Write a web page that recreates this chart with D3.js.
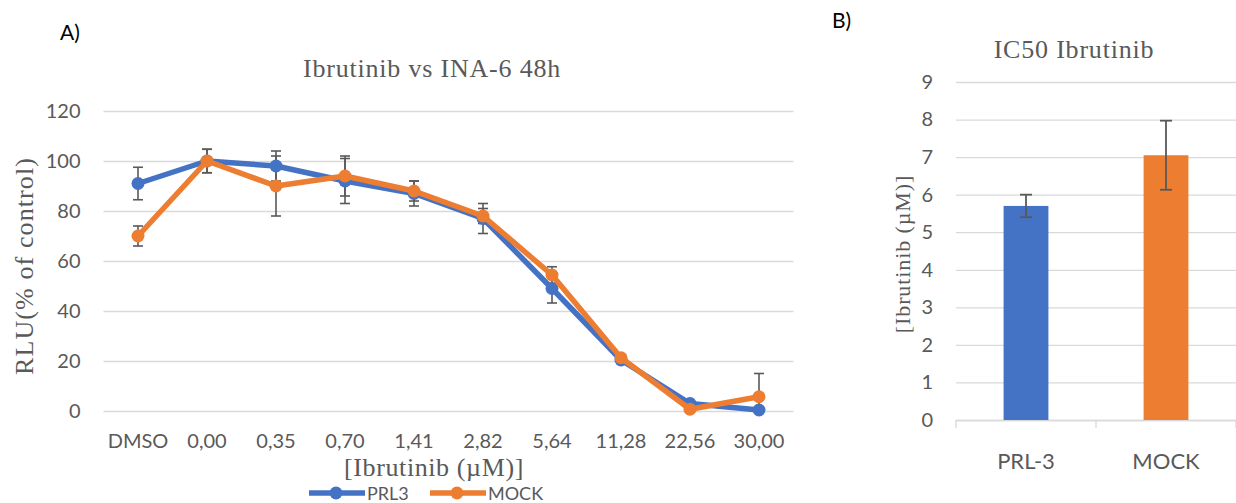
<!DOCTYPE html>
<html>
<head>
<meta charset="utf-8">
<script src="https://cdn.jsdelivr.net/npm/d3@7"></script>
<style>
  body { margin: 0; background: #fff; }
  svg { display: block; }
  .tick text { font-family: Lato, "Open Sans", sans-serif; fill: #595959; }
  .serif { font-family: "Liberation Serif", "DejaVu Serif", serif; fill: #595959; }
</style>
</head>
<body>
<svg width="1236" height="503"></svg>
<script>
// panel A: dose response
const doses = ["DMSO", "0,00", "0,35", "0,70", "1,41", "2,82", "5,64", "11,28", "22,56", "30,00"];
const prl3 = [91, 100, 98, 92, 87, 77, 49, 20.4, 3, 0.4];
const prl3Err = [6.5, 4.7, 6, 9, 5, 6, 5.8, 1, 1, 0.5];
const mock = [70, 100, 90, 94, 88, 78, 54.4, 21.3, 0.7, 5.7];
const mockErr = [4, 4.7, 12, 8, 4, 3, 3.3, 1, 0.5, 9.3];
const yTicksA = [0, 20, 40, 60, 80, 100, 120];

// panel B: IC50
const groups = ["PRL-3", "MOCK"];
const ic50 = [5.7, 7.05];
const ic50Err = [0.3, 0.92];
const yTicksB = [0, 1, 2, 3, 4, 5, 6, 7, 8, 9];

const blue = "#4472C4";
const orange = "#ED7D31";
const grid = "#d9d9d9";
const errColor = "#595959";
const sans = "Lato, 'Open Sans', sans-serif";

const svg = d3.select("svg");

// ---------- A ----------
const xA = d3.scaleBand().domain(doses).range([103.5, 793.5]);
const yA = d3.scaleLinear().domain([0, 120]).range([411, 111]);

const gA = svg.append("g");

gA.append("g")
  .attr("transform", "translate(103.5,0)")
  .call(d3.axisLeft(yA).tickValues(yTicksA).tickSize(-690).tickPadding(23))
  .call(g => g.select(".domain").remove())
  .call(g => g.selectAll(".tick line").attr("stroke", grid).attr("stroke-width", 1.3))
  .call(g => g.selectAll(".tick text").attr("font-size", 20));

gA.append("g")
  .attr("transform", "translate(0,411)")
  .call(d3.axisBottom(xA).tickSize(0).tickPadding(23))
  .call(g => g.select(".domain").remove())
  .call(g => g.selectAll(".tick text").attr("font-size", 20));

const series = [
  { name: "PRL3", values: prl3, err: prl3Err, color: blue },
  { name: "MOCK", values: mock, err: mockErr, color: orange }
];

const cx = d => xA(d) + xA.bandwidth() / 2;

// error bars under the lines
series.forEach(s => {
  const eb = gA.append("g").attr("stroke", errColor).attr("stroke-width", 1.6);
  doses.forEach((d, i) => {
    const x = cx(d);
    const y1 = yA(s.values[i] + s.err[i]);
    const y2 = yA(Math.max(0, s.values[i] - s.err[i]));
    eb.append("line").attr("x1", x).attr("x2", x).attr("y1", y1).attr("y2", y2);
    eb.append("line").attr("x1", x - 5).attr("x2", x + 5).attr("y1", y1).attr("y2", y1);
    eb.append("line").attr("x1", x - 5).attr("x2", x + 5).attr("y1", y2).attr("y2", y2);
  });
});

const line = d3.line().x((v, i) => cx(doses[i])).y(v => yA(v));

series.forEach(s => {
  gA.append("path")
    .datum(s.values)
    .attr("fill", "none")
    .attr("stroke", s.color)
    .attr("stroke-width", 5.5)
    .attr("stroke-linejoin", "round")
    .attr("d", line);
  gA.selectAll(null)
    .data(s.values)
    .enter()
    .append("circle")
    .attr("cx", (v, i) => cx(doses[i]))
    .attr("cy", v => yA(v))
    .attr("r", 6.5)
    .attr("fill", s.color);
});

gA.append("text").attr("class", "serif")
  .attr("x", 432).attr("y", 77).attr("text-anchor", "middle")
  .attr("font-size", 26).attr("letter-spacing", 0.8).text("Ibrutinib vs INA-6 48h");

gA.append("text").attr("class", "serif")
  .attr("x", 434).attr("y", 476).attr("text-anchor", "middle")
  .attr("font-size", 26).attr("letter-spacing", 0.6).text("[Ibrutinib (µM)]");

gA.append("text").attr("class", "serif")
  .attr("transform", "translate(33,266) rotate(-90)")
  .attr("text-anchor", "middle")
  .attr("font-size", 26).attr("letter-spacing", 1.1).text("RLU(% of control)");

// legend
const legend = gA.append("g").attr("transform", "translate(309,493)");
series.forEach((s, i) => {
  const lg = legend.append("g").attr("transform", `translate(${i * 121},0)`);
  lg.append("line").attr("x1", 0).attr("x2", 56).attr("y1", 0).attr("y2", 0)
    .attr("stroke", s.color).attr("stroke-width", 5.5);
  lg.append("circle").attr("cx", 27).attr("cy", 0).attr("r", 6.5).attr("fill", s.color);
  lg.append("text").attr("x", 58).attr("y", 7)
    .attr("font-family", sans)
    .attr("font-size", 18).attr("fill", "#595959").text(s.name);
});

svg.append("text").attr("x", 60).attr("y", 40)
  .attr("font-family", sans)
  .attr("font-size", 21).attr("fill", "#000").text("A)");

// ---------- B ----------
const xB = d3.scaleBand().domain(groups).range([956, 1236]).paddingInner(0.68).paddingOuter(0.34);
const bandB = d3.scaleBand().domain(groups).range([956, 1236]);
const yB = d3.scaleLinear().domain([0, 9]).range([420, 82]);

const gB = svg.append("g");

gB.append("g")
  .attr("transform", "translate(956,0)")
  .call(d3.axisLeft(yB).tickValues(yTicksB).tickSize(-280).tickPadding(23))
  .call(g => g.select(".domain").remove())
  .call(g => g.selectAll(".tick line").attr("stroke", grid).attr("stroke-width", 1.3))
  .call(g => g.selectAll(".tick text").attr("font-size", 20));

// category axis with tick marks between categories
gB.append("line").attr("x1", 956).attr("x2", 1236).attr("y1", 420.5).attr("y2", 420.5)
  .attr("stroke", grid).attr("stroke-width", 1.3);
[956, 1096, 1236].forEach(x => {
  gB.append("line").attr("x1", x).attr("x2", x).attr("y1", 420).attr("y2", 428)
    .attr("stroke", grid).attr("stroke-width", 1.3);
});

gB.selectAll("rect")
  .data(ic50)
  .enter()
  .append("rect")
  .attr("x", (v, i) => xB(groups[i]))
  .attr("width", xB.bandwidth())
  .attr("y", v => yB(v))
  .attr("height", v => yB(0) - yB(v))
  .attr("fill", (v, i) => (i === 0 ? blue : orange));

const ebB = gB.append("g").attr("stroke", errColor).attr("stroke-width", 1.8);
ic50.forEach((v, i) => {
  const x = xB(groups[i]) + xB.bandwidth() / 2;
  const y1 = yB(v + ic50Err[i]);
  const y2 = yB(v - ic50Err[i]);
  ebB.append("line").attr("x1", x).attr("x2", x).attr("y1", y1).attr("y2", y2);
  ebB.append("line").attr("x1", x - 6).attr("x2", x + 6).attr("y1", y1).attr("y2", y1);
  ebB.append("line").attr("x1", x - 6).attr("x2", x + 6).attr("y1", y2).attr("y2", y2);
});

gB.selectAll(".cat")
  .data(groups)
  .enter()
  .append("text")
  .attr("x", d => bandB(d) + bandB.bandwidth() / 2)
  .attr("y", 469)
  .attr("text-anchor", "middle")
  .attr("font-family", sans)
  .attr("font-size", 22).attr("fill", "#595959")
  .text(d => d);

gB.append("text").attr("class", "serif")
  .attr("x", 1074).attr("y", 58).attr("text-anchor", "middle")
  .attr("font-size", 26).attr("letter-spacing", 0.8).text("IC50 Ibrutinib");

gB.append("text").attr("class", "serif")
  .attr("transform", "translate(910,254) rotate(-90)")
  .attr("text-anchor", "middle")
  .attr("font-size", 22).attr("letter-spacing", 0.9).text("[Ibrutinib (µM)]");

svg.append("text").attr("x", 832).attr("y", 28)
  .attr("font-family", sans)
  .attr("font-size", 21).attr("fill", "#000").text("B)");
</script>
</body>
</html>
